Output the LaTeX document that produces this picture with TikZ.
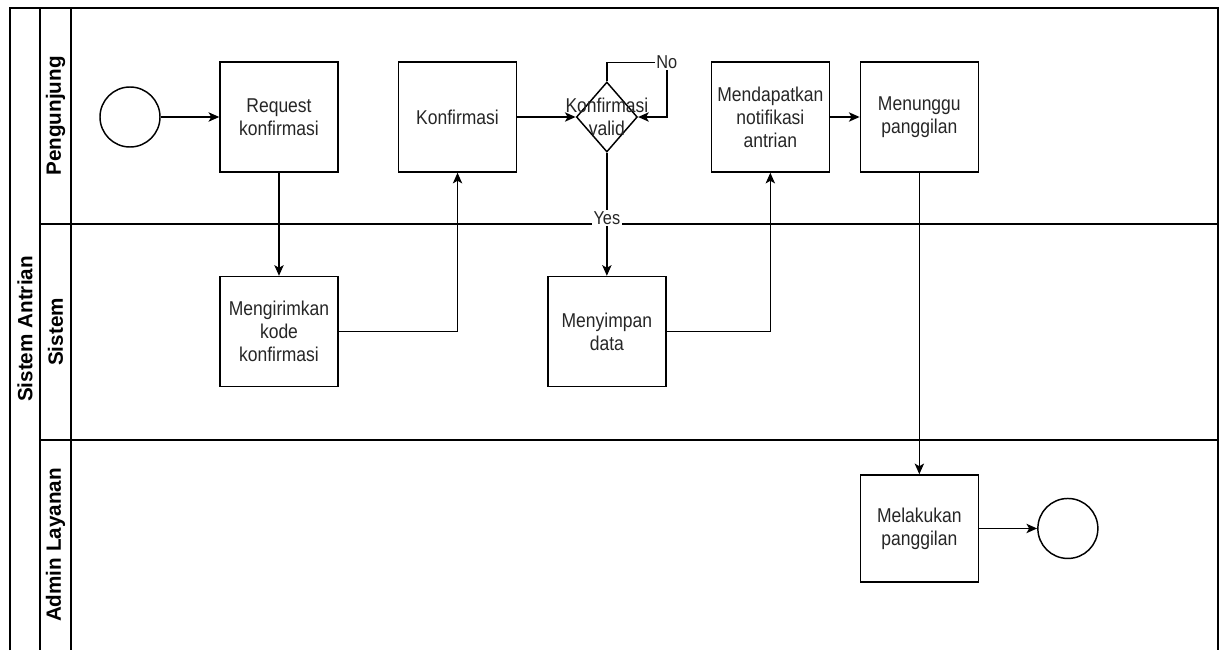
\documentclass[tikz,border=0pt]{standalone}
\usepackage{fontspec}
\setmainfont{Liberation Sans}
\newfontfamily\boxfont[FakeStretch=0.875]{Liberation Sans}
\usepackage{tikz}
\usetikzlibrary{calc, shapes, arrows.meta, positioning}
\tikzset{
    boxnode/.style = {draw, rectangle, inner sep = 0em, minimum width=88.5pt, minimum height=82.5pt,
      node distance=0em, font=\boxfont\fontsize{15}{17.25}\selectfont, text=black!85},
    circlenode/.style = {circle, draw, inner sep = 0em, minimum size=45pt, node distance=0em},
    diamondnode/.style = {draw, diamond, inner sep = 0em, minimum width=45.75pt, minimum height=52.5pt,
      node distance=0em},
    textnode/.style  = {draw=none, fill=none, rectangle, inner sep = 0.1em, node distance=0em,
      font=\boxfont\fontsize{15}{17.25}\selectfont, text=black!85},
    lanenode/.style = {draw=none, rectangle, rotate=90, inner sep = 0em,
      font=\bfseries\fontsize{15.5}{18}\selectfont},
    connect/.style = {black, -{Stealth[length=8pt, width=7pt, inset=2pt]}},
    every text node part/.style={align=center}
}

\begin{document}
\begin{tikzpicture}[x=0.75pt, y=-0.75pt, line width=1.1pt]
    \useasboundingbox (0,0) rectangle (1221,650);

    % pool and lanes
    \draw (10,650) -- (10,8) -- (1218,8) -- (1218,650);
    \draw (40,8) -- (40,650);
    \draw (71,8) -- (71,650);
    \draw (40,224) -- (1218,224);
    \draw (40,440) -- (1218,440);

    \node [lanenode, name=pool] at (25,329) {Sistem Antrian};
    \node [lanenode, name=pengunjung] at (55.5,116) {Pengunjung};
    \node [lanenode, name=sistem] at (55.5,332) {Sistem};
    \node [lanenode, name=admin] at (55.5,545) {Admin Layanan};

    % Pengunjung
    \node [circlenode, name=start] at (130,117) {};
    \node [boxnode, name=req, right of = start, xshift=111.75pt] {Request\\konfirmasi};
    \node [boxnode, name=konf, right of = req, xshift=133.9pt] {Konfirmasi};
    \node [diamondnode, name=valid, right of = konf, xshift=112pt] {};
    \node [textnode, name=validtext] at (valid) {Konfirmasi\\valid};
    \node [boxnode, name=notif, right of = valid, xshift=122.6pt] {Mendapatkan\\notifikasi\\antrian};
    \node [boxnode, name=tunggu, right of = notif, xshift=111.75pt] {Menunggu\\panggilan};

    % Sistem
    \node [boxnode, name=kirim, below of = req, yshift=-160.9pt] {Mengirimkan\\kode\\konfirmasi};
    \node [boxnode, name=simpan, below of = valid, yshift=-160.9pt] {Menyimpan\\data};

    % Admin Layanan
    \node [boxnode, name=panggil, below of = tunggu, yshift=-308.6pt, minimum height=80.25pt] {Melakukan\\panggilan};
    \node [circlenode, name=finish, right of = panggil, xshift=111.4pt] {};

    \draw (start) edge[connect] (req);
    \draw (req) edge[connect] (kirim);
    \draw[connect] (kirim.east) -| (konf.south);
    \draw (konf) edge[connect] (valid);
    \draw (valid) edge[connect] node[textnode, fill=white, pos=0.53, font=\boxfont\fontsize{14}{16}\selectfont] {Yes} (simpan);
    \coordinate (nocorner) at ($(valid.north)+(60,-19)$);
    \draw[connect] (valid.north) |- (nocorner)
        node[textnode, fill=white, font=\boxfont\fontsize{14}{16}\selectfont] {No} |- (valid.east);
    \draw[connect] (simpan.east) -| (notif.south);
    \draw (notif) edge[connect] (tunggu);
    \draw (tunggu) edge[connect] (panggil);
    \draw (panggil) edge[connect] (finish);
\end{tikzpicture}
\end{document}
